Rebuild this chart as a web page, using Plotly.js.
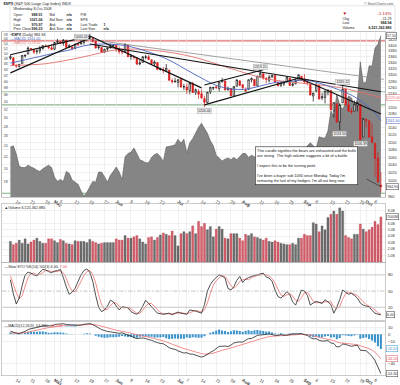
<!DOCTYPE html>
<html><head><meta charset="utf-8">
<script src="https://cdn.plot.ly/plotly-3.0.1.min.js"></script>
<style>html,body{margin:0;padding:0;background:#fff;overflow:hidden}
#wrap{width:400px;height:385px;overflow:hidden}
#chart{width:800px;height:770px;transform:scale(0.5);transform-origin:0 0}</style>
</head><body><div id="wrap"><div id="chart"></div></div>
<script>
// ---------- DATA ----------
const dates = ["2008-04-10","2008-04-11","2008-04-14","2008-04-15","2008-04-16","2008-04-17","2008-04-18","2008-04-21","2008-04-22","2008-04-23",
"2008-04-24","2008-04-25","2008-04-28","2008-04-29","2008-04-30","2008-05-01","2008-05-02","2008-05-05","2008-05-06","2008-05-07",
"2008-05-08","2008-05-09","2008-05-12","2008-05-13","2008-05-14","2008-05-15","2008-05-16","2008-05-19","2008-05-20","2008-05-21",
"2008-05-22","2008-05-23","2008-05-27","2008-05-28","2008-05-29","2008-05-30","2008-06-02","2008-06-03","2008-06-04","2008-06-05",
"2008-06-06","2008-06-09","2008-06-10","2008-06-11","2008-06-12","2008-06-13","2008-06-16","2008-06-17","2008-06-18","2008-06-19",
"2008-06-20","2008-06-23","2008-06-24","2008-06-25","2008-06-26","2008-06-27","2008-06-30","2008-07-01","2008-07-02","2008-07-03",
"2008-07-07","2008-07-08","2008-07-09","2008-07-10","2008-07-11","2008-07-14","2008-07-15","2008-07-16","2008-07-17","2008-07-18",
"2008-07-21","2008-07-22","2008-07-23","2008-07-24","2008-07-25","2008-07-28","2008-07-29","2008-07-30","2008-07-31","2008-08-01",
"2008-08-04","2008-08-05","2008-08-06","2008-08-07","2008-08-08","2008-08-11","2008-08-12","2008-08-13","2008-08-14","2008-08-15",
"2008-08-18","2008-08-19","2008-08-20","2008-08-21","2008-08-22","2008-08-25","2008-08-26","2008-08-27","2008-08-28","2008-08-29",
"2008-09-02","2008-09-03","2008-09-04","2008-09-05","2008-09-08","2008-09-09","2008-09-10","2008-09-11","2008-09-12","2008-09-15",
"2008-09-16","2008-09-17","2008-09-18","2008-09-19","2008-09-22","2008-09-23","2008-09-24","2008-09-25","2008-09-26","2008-09-29",
"2008-09-30","2008-10-01","2008-10-02","2008-10-03","2008-10-06","2008-10-07","2008-10-08"];

const openP = [1355,1357,1332,1328,1337,1363,1369,1387,1386,1378,
1380,1388,1397,1395,1391,1386,1410,1414,1406,1417,
1393,1394,1389,1404,1404,1409,1423,1425,1424,1414,
1391,1392,1376,1386,1391,1398,1400,1386,1377,1377,
1400,1361,1358,1357,1336,1341,1358,1360,1350,1336,
1341,1318,1317,1314,1316,1282,1278,1276,1285,1262,
1262,1251,1273,1245,1248,1241,1226,1214,1246,1258,
1262,1257,1278,1281,1253,1257,1235,1264,1281,1269,
1253,1254,1284,1286,1266,1294,1304,1288,1283,1293,
1298,1276,1267,1271,1277,1290,1267,1272,1283,1296,
1287,1276,1271,1234,1250,1267,1228,1229,1245,1250.9,
1188.3,1210.3,1157.1,1213.1,1255.4,1207.6,1188.8,1187.9,1204.5,1209.1,
1113.8,1164.2,1160.6,1115.2,1097.6,1057.6,988.91];

const highP = [1367,1357,1335,1337,1365,1368,1395,1390,1386,1386,
1397,1399,1402,1397,1404,1410,1422,1415,1421,1419,
1404,1394,1405,1407,1420,1424,1426,1440.24,1424,1419,
1399,1392,1388,1391,1406,1404,1400,1395,1388,1405,
1400,1370,1366,1358,1353,1361,1366,1366,1350,1348,
1341,1324,1326,1336,1316,1289,1291,1285,1292,1272,
1273,1275,1278,1257,1255,1254,1235,1246,1263,1262,
1267,1277,1291,1282,1263,1258,1264,1285,1284,1271,
1260,1285,1292,1286,1297,1313.15,1304,1294,1300,1301,
1300,1277,1277,1281,1294,1290,1276,1289,1301,1296,
1303,1281,1271,1244,1275,1268,1243,1250,1255,1250.9,
1214.8,1210.3,1211.1,1265.12,1255.4,1221.2,1197.4,1220,1215.8,1209.1,
1168.03,1167,1160.6,1153.8,1097.6,1072.9,1021.06];

const lowP = [1350,1331,1324,1324,1337,1357,1369,1380,1370,1369,
1371,1385,1394,1386,1384,1383,1406,1404,1398,1391,
1390,1384,1386,1396,1403,1402,1414,1419,1409,1388,
1385,1373,1373,1378,1388,1396,1377,1369,1368,1377,
1359,1350,1351,1335,1332,1341,1352,1350,1333,1330,
1317,1314,1305,1314,1283,1273,1276,1261,1261,1252,
1240,1239,1244,1237,1225,1225,1200.44,1211,1240,1252,
1255,1248,1276,1252,1251,1234,1235,1264,1264,1252,
1247,1254,1276,1264,1262,1292,1285,1274,1276,1292,
1274,1263,1262,1265,1277,1265,1263,1270,1283,1282,
1272,1267,1236,1217,1245,1224,1221,1211,1236,1192.7,
1169.3,1155.9,1133.5,1213.1,1205.6,1187.1,1179.8,1187.9,1187.5,1106.39,
1113.8,1140.8,1111.4,1098.1,1007.97,996.0,970.97];

const closeP = [1360.55,1332.83,1328.32,1334.43,1364.71,1365.56,1390.33,1388.17,1375.94,1379.93,
1388.82,1397.84,1396.37,1390.94,1385.59,1409.34,1413.90,1407.49,1418.26,1392.57,
1397.68,1388.28,1403.58,1403.04,1408.66,1423.57,1425.35,1426.63,1413.40,1390.71,
1394.35,1375.93,1385.35,1390.84,1398.26,1400.38,1385.67,1377.65,1377.20,1404.05,
1360.68,1361.76,1358.44,1335.49,1339.87,1360.03,1360.14,1350.93,1337.81,1342.83,
1317.93,1318.00,1314.29,1321.97,1283.15,1278.38,1280.00,1284.91,1261.52,1262.90,
1252.31,1273.70,1244.69,1253.39,1239.49,1228.30,1214.91,1245.36,1260.32,1260.68,
1260.00,1277.00,1282.19,1252.54,1257.76,1234.37,1263.20,1284.26,1267.38,1260.31,
1249.01,1284.88,1289.19,1266.07,1296.32,1305.32,1289.59,1285.83,1292.93,1298.20,
1278.60,1266.69,1274.54,1277.72,1292.20,1266.84,1271.51,1281.66,1300.68,1282.83,
1277.58,1274.98,1236.83,1242.31,1267.79,1224.51,1232.04,1249.05,1251.70,1192.70,
1213.60,1156.39,1206.51,1255.08,1207.09,1188.22,1185.87,1209.18,1213.27,1106.42,
1166.36,1161.06,1114.28,1099.23,1056.89,996.23,984.94];
const prevClose0 = 1354.49;

// volume in billions of shares
const volume = [3.2,2.7,2.9,3.4,2.9,3.6,2.8,3.1,3.4,3.7,
3.2,2.9,2.9,3.6,3.6,3.3,3.0,3.5,3.3,2.9,
2.8,2.7,3.3,3.2,3.2,3.2,3.0,3.5,3.2,3.0,
2.8,2.9,3.0,3.0,3.0,3.0,3.6,3.4,3.4,4.1,
3.7,3.7,3.9,4.1,3.6,3.1,2.8,3.8,3.9,3.4,
3.8,4.2,4.5,4.3,4.1,4.8,4.1,2.5,4.4,4.7,
4.4,4.7,5.6,4.4,6.3,5.5,6.0,5.0,5.5,3.9,
5.1,5.5,5.1,3.7,3.6,4.4,4.4,4.4,3.7,3.3,
4.3,4.1,4.4,3.9,3.8,3.6,3.4,3.7,3.2,3.1,
3.3,3.1,2.9,2.8,2.7,2.7,2.9,2.7,3.7,3.7,
4.3,4.1,4.1,6.1,5.9,4.7,5.6,5.0,6.9,7.4,
7.9,7.4,8.4,7.9,4.1,3.8,3.6,4.3,4.3,5.9,
5.1,4.7,5.0,5.4,6.3,5.8,7.0];

// $VIX area plotted behind price
const vix = [23.8,24.0,22.5,20.4,20.2,20.2,20.6,20.3,20.1,19.8,
19.6,20.0,20.3,20.6,20.2,18.7,18.1,18.4,18.1,19.6,
19.3,18.3,18.0,17.7,16.8,16.1,16.6,17.3,18.1,18.0,
19.5,19.5,18.8,18.0,19.0,19.6,20.3,19.5,18.4,22.0,
22.6,22.8,23.6,22.6,21.5,21.3,21.0,21.0,21.9,22.4,
22.6,22.0,21.2,23.8,23.9,24.0,24.2,25.3,24.5,25.3,
22.7,24.6,25.4,26.5,27.8,28.7,27.5,26.5,25.0,24.0,
22.3,21.8,21.3,21.6,21.8,21.5,21.9,21.5,22.0,22.6,
22.6,21.9,22.3,22.0,21.9,21.2,21.8,22.2,22.6,22.2,
21.9,22.6,22.2,22.0,21.9,22.5,23.5,22.8,22.6,21.8,
22.0,24.0,24.6,24.0,23.5,25.8,25.6,25.5,27.0,31.7,
30.3,36.2,33.1,32.1,33.6,35.7,35.1,32.8,34.7,46.7,
39.4,39.8,45.3,45.1,52.1,53.7,57.5];

const ma20Idx = [0,5,10,15,20,25,30,35,40,45,50,55,60,65,70,75,80,85,90,95,100,105,110,115,120,125,126];
const ma20 = [1339,1350,1361,1373,1383,1398,1404,1403,1397,1383,1366,1344,1316,1290,1267,1256,1255,1265,1276,1279,1284,1274,1259,1241,1214,1173,1161];
const ma50Idx = [0,12,24,37,49,62,74,87,99,112,126];
const ma50 = [1331,1337,1358,1385,1382,1360,1324,1288,1274,1260,1229];

// hand-drawn trend lines: start index/price, end index/price
const trendStartIdx = [0, 0, 27, 27, 66, 66, 98];
const trendStartPx  = [1367, 1307, 1432, 1404, 1207, 1268, 1291];
const trendEndIdx   = [27, 27, 65, 126, 98.5, 86, 126];
const trendEndPx    = [1432, 1425, 1259, 1247, 1291, 1317, 1180];
const grayLineIdx = [27, 127];
const grayLinePx = [1420, 1286];

const hLevels = [1415, 1247, 1207, 969];
const hColors = ['#e07070', '#9cc09c', '#8fb48f', '#7fae7f'];

const stochK = [71,45,26,37,60,80,85,83,80,78,
85,90,89,86,84,87,88,90,75,58,
44,48,55,68,80,88,91,85,68,42,
20,12,15,22,33,30,22,15,21,20,
19,12,9,7,12,22,33,27,21,14,
9,8,7,8,9,6,9,11,9,8,
7,15,14,13,11,9,25,50,62,70,
75,80,78,74,55,52,58,70,77,66,
72,75,77,79,80,82,83,76,74,68,
52,40,37,42,49,44,30,24,38,52,
50,42,24,28,31,29,27,34,30,25,
9,20,34,52,48,44,46,42,37,28,
24,22,21,14,9,7,6];
const stochD = [78,62,47,36,41,59,75,83,83,80,
81,84,88,88,86,86,86,88,84,74,
59,50,49,57,68,79,86,88,81,65,
43,25,16,16,23,28,28,22,19,19,
20,17,13,9,9,14,22,27,27,21,
15,10,8,8,8,8,8,9,10,9,
8,10,12,14,13,11,15,28,46,61,
69,75,78,77,69,60,55,60,68,71,
72,71,75,77,79,80,82,80,78,73,
65,53,43,40,43,45,41,33,31,38,
47,48,39,31,28,29,29,30,30,30,
21,18,21,35,45,48,46,44,42,36,
30,25,22,19,15,10,7];

const macdLine = [4.3,3.0,1.5,1.0,2.5,4.0,6.5,7.8,8.5,9.5,
10.5,11.5,11.8,11.5,11.7,13.2,14.0,14.2,14.6,13.5,
13.2,12.5,12.6,12.5,12.8,13.8,14.5,14.8,13.5,11.0,
9.0,6.5,5.2,4.0,3.4,2.6,1.8,1.3,2.0,0.2,
-1.2,-2.4,-4.6,-5.8,-5.2,-5.1,-5.9,-7.4,-8.2,-10.2,
-11.5,-12.7,-13.0,-16.0,-18.5,-20.0,-20.8,-23.0,-24.5,-26.0,
-25.5,-27.3,-27.5,-28.8,-30.4,-31.6,-30.2,-27.5,-25.0,-22.8,
-19.6,-16.8,-16.5,-16.2,-17.0,-15.0,-12.0,-11.0,-10.6,-10.8,
-8.2,-6.0,-5.8,-3.5,-1.5,-1.0,-0.8,-0.2,0.6,-0.2,
-1.4,-1.5,-0.6,-1.2,-1.2,-0.4,0.5,0.4,0.6,0.9,
-0.5,-1.5,-4.5,-6.4,-6.0,-8.3,-9.5,-9.2,-8.8,-12.0,
-12.7,-17.5,-17.0,-13.5,-14.0,-15.5,-16.6,-15.8,-15.0,-22.0,
-22.5,-22.8,-26.5,-30.5,-36.4,-45.5,-54.3];
const macdSignal = [1.8,2.0,1.9,1.7,1.9,2.3,3.2,4.1,5.0,5.9,
6.8,7.8,8.6,9.2,9.7,10.4,11.1,11.7,12.3,12.5,
12.7,12.7,12.7,12.6,12.7,12.9,13.2,13.6,13.6,13.1,
12.3,11.1,9.9,8.7,7.6,6.6,5.6,4.8,4.2,3.4,
2.5,1.5,0.3,-0.9,-1.7,-2.4,-3.1,-4.0,-4.8,-5.9,
-7.0,-8.1,-9.1,-10.5,-12.1,-13.7,-15.1,-16.7,-18.3,-19.8,
-21.0,-22.2,-23.3,-24.4,-25.6,-26.8,-27.5,-27.5,-27.0,-26.2,
-24.9,-23.3,-21.9,-20.8,-20.1,-19.1,-17.7,-16.4,-15.2,-14.3,
-13.1,-11.7,-10.5,-9.1,-7.6,-6.3,-5.2,-4.2,-3.2,-2.6,
-2.4,-2.2,-1.9,-1.8,-1.7,-1.4,-1.0,-0.7,-0.4,-0.1,
-0.2,-0.5,-1.3,-2.3,-3.0,-4.1,-5.2,-6.0,-6.6,-7.7,
-8.7,-10.5,-11.8,-12.1,-12.5,-13.1,-13.8,-14.2,-14.4,-15.9,
-17.2,-18.3,-19.9,-22.0,-24.9,-29.0,-34.1];
const macdHist = [2.5,1.0,-0.4,-0.7,0.6,1.7,3.3,3.7,3.5,3.6,
3.7,3.7,3.2,2.3,2.0,2.8,2.9,2.5,2.3,1.0,
0.5,-0.2,-0.1,-0.1,0.1,0.9,1.3,1.2,-0.1,-2.1,
-3.3,-4.6,-4.7,-4.7,-4.2,-4.0,-3.8,-3.5,-2.2,-3.2,
-3.7,-3.9,-4.9,-4.9,-3.5,-2.7,-2.8,-3.4,-3.4,-4.3,
-4.5,-4.6,-3.9,-5.5,-6.4,-6.3,-5.7,-6.3,-6.2,-6.2,
-4.5,-5.1,-4.2,-4.4,-4.8,-4.8,-2.7,0.0,2.0,3.4,
5.3,6.5,5.4,4.6,3.1,4.1,5.7,5.4,4.6,3.5,
4.9,5.7,4.7,5.6,6.1,5.3,4.4,4.0,3.8,2.4,
1.0,0.7,1.3,0.6,0.5,1.0,1.5,1.1,1.0,1.0,
-0.3,-1.0,-3.2,-4.1,-3.0,-4.2,-4.3,-3.2,-2.2,-4.3,
-4.0,-7.0,-5.2,-1.4,-1.5,-2.4,-2.8,-1.6,-0.6,-6.1,
-5.3,-4.5,-6.6,-8.5,-11.5,-16.5,-20.2];

const tickIdx = [2,7,12,15,17,22,27,32,36,41,46,51,57,60,65,70,75,79,85,90,95,100,104,109,114,119,121,124];
const tickText = ['14','21','28','<b>May</b>','5','12','19','27','<b>Jun</b>','9','16','23','<b>Jul</b>','7','14','21','28','<b>Aug</b>','11','18','25','<b>Sep</b>','8','15','22','29','<b>Oct</b>','6'];
const priceTicks = [960,1000,1020,1040,1060,1080,1100,1120,1140,1180,1200,1240,1260,1280,1300,1320,1340,1360,1380,1400,1420];
const vixTicks = [18,20,22,24,26,28,30,32,34,36,38,40,42,44,46,48,50,52,54,56,58];
const volTicks = [1,2,3,4,5,6,8];
const volTickText = ['1.0B','2.0B','3.0B','4.0B','5.0B','6.0B','8.0B'];
const stochTicks = [20,50,80];
const macdTicks = [10,0,-10,-40];

const markIdx = [27, 66, 85, 113, 112, 119];
const markIsHigh = [true, false, true, true, false, false];

// ---------- BUILD (drawn at 2x, shown at 0.5 scale) ----------
const S = 2;
const idx = closeP.map((_, i) => i);
const prevC = closeP.map((c, i) => i === 0 ? prevClose0 : closeP[i - 1]);
const upDay = closeP.map((c, i) => c >= prevC[i]);
const pick = (arr, flag) => arr.filter((_, i) => upDay[i] === flag);

const FONT = 'Liberation Sans, Arial, sans-serif';
const RED = '#d81c1c';
const xr = [-2.86, 127.4];
const W = 383, L = 2, H = 385;
const PX = x => (x - L) / W, PY = y => 1 - y / H;
const f = (size, color, extra) => Object.assign({family: FONT, size: size * S, color: color || '#222'}, extra || {});

const traces = [];
traces.push({type:'scatter', mode:'lines', x: idx, y: vix, xaxis:'x', yaxis:'y',
  fill:'tozeroy', fillcolor:'#858585', line:{color:'#5a5a5a', width:0.6*S}, hoverinfo:'skip'});
traces.push({type:'scatter', mode:'lines', x: grayLineIdx, y: grayLinePx, xaxis:'x', yaxis:'y2',
  line:{color:'#8a8a8a', width:0.8*S}, hoverinfo:'skip'});
traces.push({type:'scatter', mode:'lines', x: ma50Idx, y: ma50, xaxis:'x', yaxis:'y2',
  line:{color:'#e0706e', width:0.9*S, shape:'spline'}, hoverinfo:'skip'});
traces.push({type:'scatter', mode:'lines', x: ma20Idx, y: ma20, xaxis:'x', yaxis:'y2',
  line:{color:'#4a64c0', width:0.9*S, shape:'spline'}, hoverinfo:'skip'});
for (let k = 0; k < trendStartIdx.length; k++) {
  traces.push({type:'scatter', mode:'lines', x:[trendStartIdx[k], trendEndIdx[k]], y:[trendStartPx[k], trendEndPx[k]],
    xaxis:'x', yaxis:'y2', line:{color:'#111', width:1.2*S}, hoverinfo:'skip'});
}
traces.push({type:'candlestick', x: pick(idx,true), open: pick(openP,true), high: pick(highP,true), low: pick(lowP,true), close: pick(closeP,true),
  xaxis:'x', yaxis:'y2', whiskerwidth:0,
  increasing:{line:{color:'#111', width:0.7*S}, fillcolor:'#ffffff'},
  decreasing:{line:{color:'#111', width:0.7*S}, fillcolor:'#111111'}, hoverinfo:'skip'});
traces.push({type:'candlestick', x: pick(idx,false), open: pick(openP,false), high: pick(highP,false), low: pick(lowP,false), close: pick(closeP,false),
  xaxis:'x', yaxis:'y2', whiskerwidth:0,
  increasing:{line:{color:RED, width:0.7*S}, fillcolor:'#ffffff'},
  decreasing:{line:{color:RED, width:0.7*S}, fillcolor:RED}, hoverinfo:'skip'});
traces.push({type:'bar', x: idx, y: volume, xaxis:'x2', yaxis:'y3',
  marker:{color: upDay.map(u => u ? '#6f6f6f' : '#d4606c'), line:{color: upDay.map(u => u ? '#444' : '#b03040'), width:0.3*S}}, hoverinfo:'skip'});
traces.push({type:'scatter', mode:'lines', x: idx, y: stochD, xaxis:'x3', yaxis:'y4', line:{color:'#f07070', width:0.8*S}, hoverinfo:'skip'});
traces.push({type:'scatter', mode:'lines', x: idx, y: stochK, xaxis:'x3', yaxis:'y4', line:{color:'#222', width:0.8*S}, hoverinfo:'skip'});
traces.push({type:'bar', x: idx, y: macdHist, xaxis:'x4', yaxis:'y5', marker:{color:'#3b93cc'}, hoverinfo:'skip'});
traces.push({type:'scatter', mode:'lines', x: idx, y: macdSignal, xaxis:'x4', yaxis:'y5', line:{color:'#f07070', width:0.8*S}, hoverinfo:'skip'});
traces.push({type:'scatter', mode:'lines', x: idx, y: macdLine, xaxis:'x4', yaxis:'y5', line:{color:'#222', width:0.8*S}, hoverinfo:'skip'});

const GRID = '#e6e6e6', FRAME = '#a8a8a8';
const xCommon = {range: xr, tickvals: tickIdx, ticktext: tickText, showgrid:true, gridcolor: GRID, gridwidth:0.6*S,
  zeroline:false, showline:true, mirror:true, linecolor: FRAME, linewidth:0.6*S, ticks:'', tickfont:f(4.4,'#333'),
  fixedrange:true, rangeslider:{visible:false}, ticklabelstandoff: 0.8*S};
const yCommon = {zeroline:false, showline:true, mirror:true, linecolor: FRAME, linewidth:0.6*S, ticks:'', fixedrange:true,
  tickfont:f(4.2,'#333'), ticklabelstandoff: 1.5*S};

const dMain = [PY(197), PY(32)], dVol = [PY(262), PY(204)], dSto = [PY(320), PY(263)], dMacd = [PY(375.5), PY(322)];

const shapes = [];
hLevels.forEach((lv, k) => shapes.push({type:'line', xref:'x domain', x0:0, x1:1, yref:'y2', y0:lv, y1:lv,
  line:{color:hColors[k], width:1.1*S}, layer:'below'}));
shapes.push({type:'line', xref:'x3 domain', x0:0, x1:1, yref:'y4', y0:stochTicks[0], y1:stochTicks[0], line:{color:'#b0b0b0', width:0.7*S}});
shapes.push({type:'line', xref:'x3 domain', x0:0, x1:1, yref:'y4', y0:stochTicks[2], y1:stochTicks[2], line:{color:'#b0b0b0', width:0.7*S}});
shapes.push({type:'line', xref:'x3 domain', x0:0, x1:1, yref:'y4', y0:stochTicks[1], y1:stochTicks[1], line:{color:'#a0a0a0', width:0.6*S, dash:'dashdot'}});
shapes.push({type:'rect', xref:'paper', yref:'paper', x0:PX(10), x1:PX(395), y0:PY(31.5), y1:PY(5.8), line:{color:'#c8c8c8', width:0.5*S}, layer:'below'});

const ann = [];
const T = (x, y, text, o) => ann.push(Object.assign({xref:'paper', yref:'paper', x:PX(x), y:PY(y), text, showarrow:false,
  xanchor:'left', yanchor:'middle', font:f(3.6,'#222'), borderpad:0}, o || {}));

// header
T(3, 3, '<b>$SPX</b> (S&P 500 Large Cap Index) INDX', {font:f(3.8,'#222')});
T(394, 3.5, '© StockCharts.com', {xanchor:'right', font:f(3.4,'#555')});
T(13, 8.5, 'Wednesday 8-Oct-2008');
const rowY = [14, 19, 24, 28.8];
['Open','High','Low','Prev Close'].forEach((s,k) => T(13, rowY[k], s));
[openP[126], highP[126], lowP[126], prevC[126]].forEach((v,k) => T(43, rowY[k], '<b>' + v.toFixed(2) + '</b>', {xanchor:'right'}));
['Bid','Bid Size','Ask','Ask Size'].forEach((s,k) => T(49, rowY[k], s));
['n/a','n/a','n/a','n/a'].forEach((s,k) => T(66, rowY[k], '<b>' + s + '</b>'));
['P/E','EPS','Last Trade','Last Size'].forEach((s,k) => T(80, rowY[k], s));
T(103, rowY[2], '<b>1</b>'); T(103, rowY[3], '<b>n/a</b>');
const chg = closeP[126] - prevC[126];
T(342, 13.5, '▼', {font:f(4.6,'#b00000')});
T(392, 13.5, (100*chg/prevC[126]).toFixed(2) + '%', {xanchor:'right', font:f(4.4,'#c00000')});
T(342, 18.3, 'Chg'); T(392, 18.3, chg.toFixed(2), {xanchor:'right'});
T(342, 22.8, 'Last'); T(392, 22.8, '<b>' + closeP[126].toFixed(2) + '</b>', {xanchor:'right'});
T(342, 27.3, 'Volume'); T(392, 27.3, '<b>6,521,362,880</b>', {xanchor:'right'});

// panel legends
T(10, 34.6, '<b>▪$SPX</b> (Daily) 984.94', {font:f(3.7,'#222')});
T(10, 38.4, '<span style="color:#4a64c0">—MA(20) ' + ma20[ma20.length-1].toFixed(2) + '</span>', {font:f(3.7)});
T(10, 42.2, '<span style="color:#e0706e">—MA(50) ' + ma50[ma50.length-1].toFixed(2) + '</span>', {font:f(3.7)});
T(4, 207.5, '▲Volume 6,521,362,880', {font:f(3.7,'#222')});
T(4, 266, '—Slow STO %K(14),%D(3) ' + stochK[126].toFixed(2) + ', <span style="color:#e05050">' + stochD[126].toFixed(2) + '</span>', {font:f(3.7,'#222')});
T(4, 325, '—MACD(12,26,9) ' + macdLine[126].toFixed(3) + ', <span style="color:#e05050">' + macdSignal[126].toFixed(3) + '</span>, <span style="color:#3b93cc">' + macdHist[126].toFixed(3) + '</span>', {font:f(3.7,'#222')});

// high/low marks (the top-most one sits beside its candle, inside the panel)
markIdx.forEach((m, k) => {
  const v = markIsHigh[k] ? highP[m] : lowP[m];
  const a = {xref:'x', yref:'y2', x:m, y:Math.log10(v), text:v.toFixed(2), showarrow:false, yanchor: markIsHigh[k] ? 'bottom' : 'top',
    yshift: (markIsHigh[k] ? 1 : -1) * S, font:f(3.5,'#333'), bgcolor:'#ececec', bordercolor:'#999', borderwidth:0.4*S, borderpad:0.5*S};
  if (k === 0) { a.yanchor = 'top'; a.yshift = -0.5*S; a.xanchor = 'right'; a.xshift = -1.5*S; }
  ann.push(a);
});
// right value boxes
const box = (yref, yv, text, color) => ann.push({xref:'paper', yref, x:1.003, y:yv, text, showarrow:false, xanchor:'left',
  font:f(3.6, color), bgcolor:'#fff', bordercolor:color, borderwidth:0.5*S, borderpad:0.4*S});
box('y2', Math.log10(closeP[126]), closeP[126].toFixed(2), '#333');
box('y', Math.log10(vix[126]), vix[126].toFixed(2), '#333');
box('y2', Math.log10(ma20[ma20.length-1]), ma20[ma20.length-1].toFixed(2), '#4a64c0');
box('y2', Math.log10(ma50[ma50.length-1]), ma50[ma50.length-1].toFixed(2), '#e0706e');
box('y3', volume[126], (volume[126]*1000).toFixed(0) + 'M', '#333');
box('y4', stochK[126], stochK[126].toFixed(2), '#333');
box('y5', macdLine[126], macdLine[126].toFixed(2), '#333');
box('y5', macdSignal[126], macdSignal[126].toFixed(2), '#e05050');
box('y5', macdHist[126], macdHist[126].toFixed(2), '#3b93cc');

// commentary note
ann.push({xref:'paper', yref:'paper', x:PX(255), y:PY(146.5), xanchor:'left', yanchor:'top', align:'left', showarrow:false,
  text:"This candle signifies the bears are exhausted and the bulls<br>are stiring.  The high volume suggests a bit of a battle.<br><br>I expect this to be the turning point.<br><br>I've been a buyer sub 1030 since Monday. Today I'm<br>removing the last of my hedges. I'm all out long now.",
  font:f(3.8,'#111'), bgcolor:'#ffffff', bordercolor:'#222', borderwidth:0.6*S, borderpad:1.5*S});
ann.push({xref:'x', yref:'y2', x:126, y:Math.log10(closeP[126]), ax:-15*S, ay:-8*S, showarrow:true, arrowhead:0, arrowwidth:0.6*S, arrowcolor:'#222', text:''});

const layout = {
  width:400*S, height:385*S, margin:{l:L*S, r:15*S, t:0, b:0}, paper_bgcolor:'#fff', plot_bgcolor:'#fff', showlegend:false,
  font:f(5,'#222'), bargap:0.3,
  xaxis: Object.assign({}, xCommon, {domain:[0,1], anchor:'y', showticklabels:true}),
  xaxis2: Object.assign({}, xCommon, {domain:[0,1], anchor:'y3', showticklabels:false}),
  xaxis3: Object.assign({}, xCommon, {domain:[0,1], anchor:'y4', showticklabels:false}),
  xaxis4: Object.assign({}, xCommon, {domain:[0,1], anchor:'y5', showticklabels:true}),
  yaxis: Object.assign({}, yCommon, {domain:dMain, type:'log', range:[Math.log10(16.0), Math.log10(59.2)], side:'left',
    ticklabelposition:'inside', tickvals:vixTicks, showgrid:false, tickfont:f(3.5,'#444'), ticklabelstandoff: 1*S}),
  yaxis2: Object.assign({}, yCommon, {domain:dMain, overlaying:'y', anchor:'x', type:'log', side:'right',
    range:[Math.log10(960), Math.log10(1446.6)], tickvals:priceTicks, showgrid:true, gridcolor:GRID, gridwidth:0.6*S, tickfont:f(4.0,'#333')}),
  yaxis3: Object.assign({}, yCommon, {domain:dVol, anchor:'x2', side:'right', range:[0, 9], tickvals:volTicks, ticktext:volTickText,
    showgrid:true, gridcolor:GRID, gridwidth:0.6*S, tickfont:f(3.4,'#333')}),
  yaxis4: Object.assign({}, yCommon, {domain:dSto, anchor:'x3', side:'right', range:[-3.6, 102], tickvals:stochTicks, showgrid:false}),
  yaxis5: Object.assign({}, yCommon, {domain:dMacd, anchor:'x4', side:'right', range:[-57, 17], tickvals:macdTicks,
    showgrid:true, gridcolor:GRID, gridwidth:0.6*S}),
  shapes, annotations: ann
};
Plotly.newPlot('chart', traces, layout, {staticPlot:true, displayModeBar:false});
</script></body></html>
